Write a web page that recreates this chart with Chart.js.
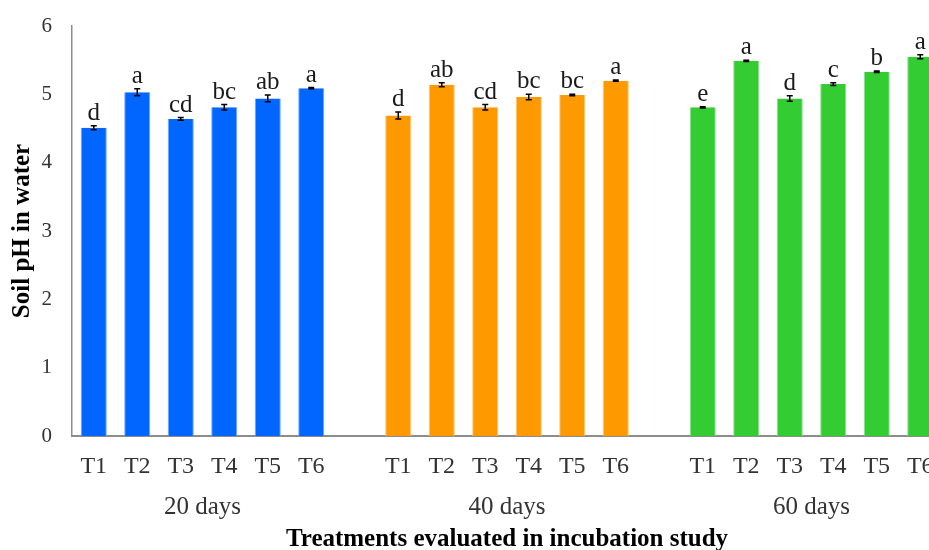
<!DOCTYPE html>
<html>
<head>
<meta charset="utf-8">
<script src="https://cdn.jsdelivr.net/npm/chart.js@4.4.1/dist/chart.umd.min.js"></script>
<style>
  html, body { margin: 0; padding: 0; background: #fff; overflow: hidden; }
  #wrap { width: 960px; height: 560px; }
</style>
</head>
<body>
<div id="wrap"><canvas id="phChart" width="960" height="560"></canvas></div>
<script>
const treatments = ['T1', 'T2', 'T3', 'T4', 'T5', 'T6'];
const periods = ['20 days', '40 days', '60 days'];

// mean soil pH per treatment
const ph20 = [4.51, 5.03, 4.64, 4.81, 4.94, 5.09];
const ph40 = [4.69, 5.14, 4.81, 4.96, 4.99, 5.20];
const ph60 = [4.81, 5.49, 4.94, 5.15, 5.33, 5.55];

// standard error
const err20 = [0.03, 0.05, 0.02, 0.04, 0.05, 0.01];
const err40 = [0.05, 0.03, 0.04, 0.04, 0.01, 0.01];
const err60 = [0.01, 0.01, 0.04, 0.02, 0.01, 0.03];

// significance letters
const let20 = ['d', 'a', 'cd', 'bc', 'ab', 'a'];
const let40 = ['d', 'ab', 'cd', 'bc', 'bc', 'a'];
const let60 = ['e', 'a', 'd', 'c', 'b', 'a'];

const yTicks = [0, 1, 2, 3, 4, 5, 6];

const colors = ['#0066FF', '#FF9900', '#33CC33'];
const edges = ['#6fa8ff', '#ffc46e', '#8ee08e'];
const serif = "'Liberation Serif', 'Times New Roman', serif";

// build one flat category list with an empty slot between periods
const labels = [];
const values = [];
const errors = [];
const letters = [];
const fills = [];
const borders = [];
const groupOf = [];
[ph20, ph40, ph60].forEach((vals, g) => {
    if (g > 0) {
        labels.push('');
        values.push(null);
        errors.push(null);
        letters.push('');
        fills.push(colors[g]);
        borders.push(edges[g]);
        groupOf.push(-1);
    }
    vals.forEach((v, i) => {
        labels.push(treatments[i]);
        values.push(v);
        errors.push([err20, err40, err60][g][i]);
        letters.push([let20, let40, let60][g][i]);
        fills.push(colors[g]);
        borders.push(edges[g]);
        groupOf.push(g);
    });
});

// error bars, letters and period labels
const annotate = {
    id: 'annotate',
    afterDatasetsDraw(chart) {
        const ctx = chart.ctx;
        const x = chart.scales.x;
        const y = chart.scales.y;
        ctx.save();
        ctx.strokeStyle = '#000';
        ctx.lineWidth = 1.5;
        values.forEach((v, i) => {
            if (v === null) return;
            const px = x.getPixelForValue(i);
            const top = y.getPixelForValue(v + errors[i]);
            const bot = y.getPixelForValue(v - errors[i]);
            ctx.beginPath();
            ctx.moveTo(px, top); ctx.lineTo(px, bot);
            ctx.moveTo(px - 3, top); ctx.lineTo(px + 3, top);
            ctx.moveTo(px - 3, bot); ctx.lineTo(px + 3, bot);
            ctx.stroke();

            ctx.fillStyle = '#1a1a1a';
            ctx.font = '25px ' + serif;
            ctx.textAlign = 'center';
            ctx.textBaseline = 'alphabetic';
            ctx.fillText(letters[i], px, top - 6);
        });

        ctx.fillStyle = '#333';
        ctx.font = '25px ' + serif;
        ctx.textAlign = 'center';
        ctx.textBaseline = 'middle';
        periods.forEach((p, g) => {
            const idx = groupOf.map((gg, i) => gg === g ? i : -1).filter(i => i >= 0);
            const cx = (x.getPixelForValue(idx[0]) + x.getPixelForValue(idx[idx.length - 1])) / 2;
            ctx.fillText(p, cx, 507);
        });
        ctx.restore();
    }
};

new Chart(document.getElementById('phChart').getContext('2d'), {
    type: 'bar',
    data: {
        labels: labels,
        datasets: [{
            data: values,
            backgroundColor: fills,
            borderColor: borders,
            borderWidth: { left: 1, right: 1, top: 0, bottom: 0 },
            barPercentage: 0.6,
            categoryPercentage: 1
        }]
    },
    options: {
        responsive: false,
        animation: false,
        layout: { padding: { left: 0, right: 18, top: 26, bottom: 0 } },
        plugins: {
            legend: { display: false },
            tooltip: { enabled: false }
        },
        scales: {
            x: {
                grid: { display: false, drawTicks: false },
                border: { display: true, color: '#8c8c8c', width: 2 },
                ticks: {
                    color: '#333',
                    font: { family: serif, size: 24 },
                    padding: 16,
                    maxRotation: 0,
                    autoSkip: false
                },
                title: {
                    display: true,
                    text: 'Treatments evaluated in incubation study',
                    color: '#000',
                    font: { family: serif, size: 25, weight: 'bold' },
                    padding: { top: 0, bottom: 5 }
                },
                afterFit(scale) { scale.height = 124; }
            },
            y: {
                min: 0,
                max: 6,
                afterBuildTicks(scale) { scale.ticks = yTicks.map(v => ({ value: v })); },
                grid: { display: false, drawTicks: false },
                border: { display: true, color: '#8c8c8c', width: 1.5 },
                ticks: {
                    color: '#333',
                    font: { family: serif, size: 21 },
                    padding: 20
                },
                title: {
                    display: true,
                    text: 'Soil pH in water',
                    color: '#000',
                    font: { family: serif, size: 25, weight: 'bold' },
                    padding: { top: 8, bottom: 0 }
                },
                afterFit(scale) {
                    scale.width = 72;
                    scale.paddingTop = 0;
                    scale.paddingBottom = 0;
                }
            }
        }
    },
    plugins: [annotate]
});
</script>
</body>
</html>
